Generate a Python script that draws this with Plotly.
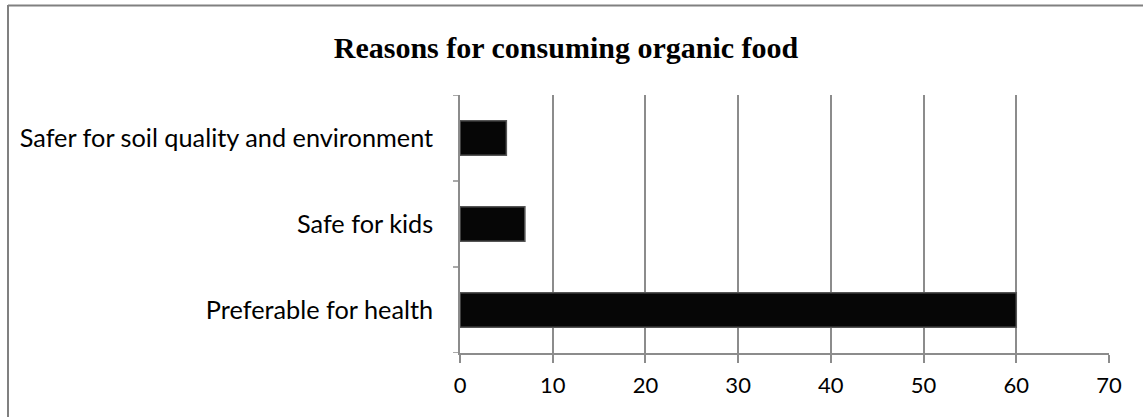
import plotly.graph_objects as go

categories = ["Preferable for health", "Safe for kids", "Safer for soil quality and environment"]
values = [60, 7, 5]
x_ticks = [0, 10, 20, 30, 40, 50, 60, 70]
title = "Reasons for consuming organic food"

W, H = 1143, 417
L, R, T, B = 460, 1109, 95, 353
pw, ph = R - L, B - T

def px(xp):
    return (xp - L) / pw

def py(yp):
    return (B - yp) / ph

fig = go.Figure()
fig.add_trace(go.Bar(
    y=categories, x=values, orientation="h",
    marker=dict(color="#060606", line=dict(color="#555555", width=1.5)),
    width=0.4,
))

fig.update_layout(
    width=W, height=H,
    margin=dict(l=L, r=W - R, t=T, b=H - B, pad=0),
    paper_bgcolor="white", plot_bgcolor="white",
    showlegend=False,
    title=dict(text="<b>" + title + "</b>", x=px(566), xref="paper", xanchor="center",
               y=1 - 47 / H, yanchor="middle",
               font=dict(family="Liberation Serif", size=30, color="black")),
    font=dict(family="Lato", size=24, color="black"),
    xaxis=dict(range=[0, 70], tickvals=x_ticks, showgrid=True, gridcolor="#8c8c8c", gridwidth=1.5,
               zeroline=False, showline=True, linecolor="#8c8c8c", linewidth=1.5,
               ticks="outside", ticklen=8, tickcolor="#8c8c8c", tickwidth=1.5,
               tickfont=dict(family="Lato", size=22), ticklabelstandoff=4, fixedrange=True),
    yaxis=dict(range=[-0.5, 2.5], showgrid=False, zeroline=False, showline=True,
               linecolor="#8c8c8c", linewidth=1.5, ticks="",
               tickfont=dict(family="Lato", size=25.3), ticklabelstandoff=20),
    bargap=0.6,
)

# category boundary tick marks on the y axis
shapes = []
for yb in [-0.5, 0.5, 1.5, 2.5]:
    shapes.append(dict(type="line", xref="paper", yref="y", x0=px(453), x1=0, y0=yb, y1=yb,
                       line=dict(color="#8c8c8c", width=1.5)))
# frame (top and left edges)
shapes.append(dict(type="line", xref="paper", yref="paper", x0=px(8), x1=px(W + 5), y0=py(5.5), y1=py(5.5),
                   line=dict(color="#808080", width=2)))
shapes.append(dict(type="line", xref="paper", yref="paper", x0=px(8), x1=px(8), y0=py(5), y1=py(H + 5),
                   line=dict(color="#808080", width=2)))
fig.update_layout(shapes=shapes)

fig.write_html("out.html", config={"displayModeBar": False},
               post_script="document.body.style.margin='0px';document.body.style.overflow='hidden';")
